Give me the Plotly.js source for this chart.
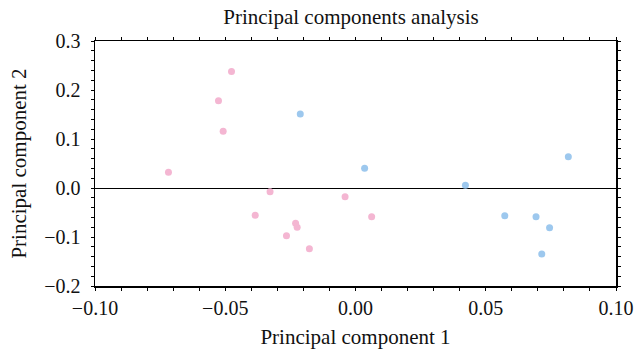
<!DOCTYPE html>
<html>
<head>
<meta charset="utf-8">
<script src="https://cdn.plot.ly/plotly-3.0.1.min.js"></script>
<style>html,body{margin:0;padding:0;background:#fff;}#chart{width:634px;height:349px;}</style>
</head>
<body>
<div id="chart"></div>
<script>
const pinkX = [-0.0476, -0.0526, -0.0508, -0.0718, -0.0328, -0.0385, -0.0230, -0.0224, -0.0265, -0.0177, -0.0040, 0.0062];
const pinkY = [0.238, 0.178, 0.116, 0.032, -0.0075, -0.0557, -0.072, -0.080, -0.0973, -0.1239, -0.0177, -0.0585];
const blueX = [-0.0212, 0.0035, 0.0422, 0.0573, 0.0693, 0.0745, 0.0715, 0.0817];
const blueY = [0.151, 0.0402, 0.0055, -0.0565, -0.0585, -0.081, -0.1347, 0.0639];
const xTicks = [-0.10, -0.05, 0.00, 0.05, 0.10];
const yTicks = [-0.2, -0.1, 0.0, 0.1, 0.2, 0.3];

const font = 'Liberation Serif, Times New Roman, serif';
const traces = [
  {x: pinkX, y: pinkY, mode: 'markers', type: 'scatter', marker: {color: '#f4b6d2', size: 7}, hoverinfo: 'none'},
  {x: blueX, y: blueY, mode: 'markers', type: 'scatter', marker: {color: '#9dc8ee', size: 7}, hoverinfo: 'none'}
];
const layout = {
  width: 634, height: 349,
  margin: {l: 95, r: 18, t: 41, b: 63},
  paper_bgcolor: '#fff', plot_bgcolor: '#fff',
  showlegend: false,
  font: {family: font, color: '#111', size: 21},
  title: {text: 'Principal components analysis', font: {family: font, size: 21, color: '#111'}, x: 351/634, xanchor: 'center', y: 1 - 17/349, yanchor: 'middle', yref: 'container'},
  xaxis: {
    range: [-0.10, 0.10], tickvals: xTicks, tickformat: '.2f',
    showgrid: false, zeroline: false, showline: true, linecolor: '#000', linewidth: 1.5, mirror: 'ticks',
    ticks: 'outside', ticklen: 3, tickcolor: '#000', tickwidth: 1,
    minor: {dtick: 0.01, ticks: 'outside', ticklen: 3, tickcolor: '#000', tickwidth: 1, showgrid: false},
    tickfont: {family: font, size: 20, color: '#111'},
    ticklabeloverflow: 'allow',
    title: {text: 'Principal component 1', font: {family: font, size: 21, color: '#111'}, standoff: 12}
  },
  yaxis: {
    range: [-0.2, 0.3], tickvals: yTicks, tickformat: '.1f',
    showgrid: false, zeroline: true, zerolinecolor: '#000', zerolinewidth: 1,
    showline: true, linecolor: '#000', linewidth: 1.5, mirror: 'ticks',
    ticks: 'outside', ticklen: 3, tickcolor: '#000', tickwidth: 1,
    minor: {dtick: 0.02, ticks: 'outside', ticklen: 3, tickcolor: '#000', tickwidth: 1, showgrid: false},
    tickfont: {family: font, size: 20, color: '#111'},
    ticklabelstandoff: 6,
    title: {text: 'Principal component 2', font: {family: font, size: 21, color: '#111'}, standoff: 12}
  }
};
Plotly.newPlot('chart', traces, layout, {displayModeBar: false, staticPlot: true});
</script>
</body>
</html>
